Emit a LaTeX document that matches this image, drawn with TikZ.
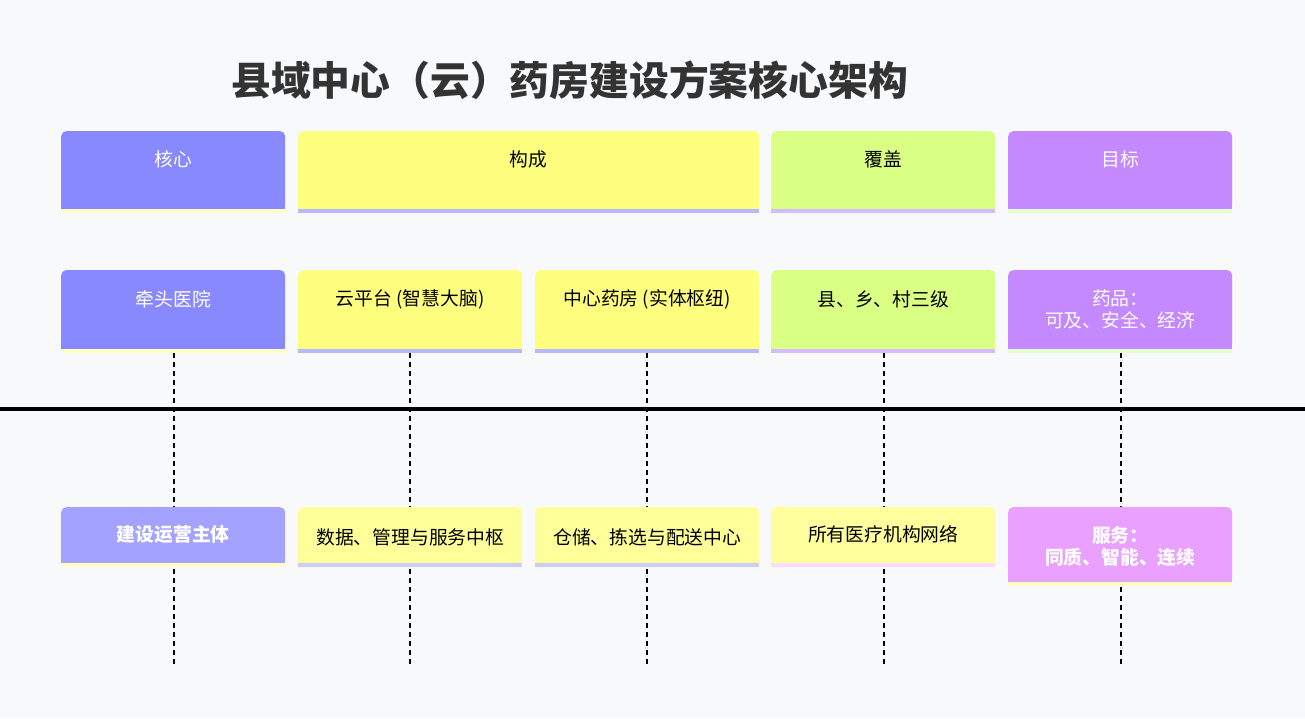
\documentclass[tikz,border=0pt]{standalone}
\usepackage{fontspec}
\setmainfont{Noto Sans CJK SC}
\pgfdeclarelayer{back}
\pgfdeclarelayer{bg}
\pgfsetlayers{back,bg,main}
\definecolor{pagebg}{HTML}{F8F9FB}
\definecolor{cblue}{HTML}{8888FF}
\definecolor{cblueL}{HTML}{A3A3FF}
\definecolor{cyellow}{HTML}{FFFF7F}
\definecolor{cyellowL}{HTML}{FFFF99}
\definecolor{cyellowM}{HTML}{FFFF9E}
\definecolor{clime}{HTML}{D9FF84}
\definecolor{cpurple}{HTML}{C488FF}
\definecolor{cpink}{HTML}{E9A0FF}
\definecolor{sYellow}{HTML}{FFFFC4}
\definecolor{sBlue}{HTML}{B8B8FF}
\definecolor{sBlueL}{HTML}{CCCCFF}
\definecolor{sLav}{HTML}{D6BBFF}
\definecolor{sGreen}{HTML}{E2FFCC}
\definecolor{sPink}{HTML}{F8DDFF}
\definecolor{titlec}{HTML}{333333}
\tikzset{
  boxnode/.style={anchor=north west, inner sep=0pt, rounded corners=5pt},
  lbl/.style={font=\fontsize{18.8}{22}\selectfont, align=center, inner sep=0pt, text=black},
  wlbl/.style={lbl, text=white},
  blbl/.style={lbl, text=white, font=\fontsize{18.8}{22}\selectfont\bfseries},
  guide/.style={draw=black, line width=2pt, dash pattern=on 4.5pt off 4.5pt},
  axis/.style={draw=black, line width=4pt}
}
% #1 name, #2 x, #3 y, #4 width, #5 height, #6 fill, #7 stripe
\newcommand\mkbox[7]{%
  \node[boxnode, fill=#6, minimum width=#4pt, minimum height=#5pt] (#1) at (#2,#3) {};
  \fill[#6] (#1.west) rectangle (#1.south east);
  \fill[#7] (#1.south west) rectangle ([yshift=-4pt]#1.south east);
}
\begin{document}
\begin{tikzpicture}[x=1pt,y=-1pt]
\useasboundingbox (0,0) rectangle (1305,718);
\begin{pgfonlayer}{back}
\fill[pagebg] (0,0) rectangle (1305,718);
\end{pgfonlayer}

\node[font=\fontsize{39.8}{44}\selectfont\bfseries, text=titlec, inner sep=0pt] (title) at (569.5,80) {县域中心（云）药房建设方案核心架构};

% header row
\mkbox{h1}{61}{131}{224}{78}{cblue}{sYellow}
\mkbox{h2}{298}{131}{461}{78}{cyellow}{sBlue}
\mkbox{h3}{771}{131}{224}{78}{clime}{sLav}
\mkbox{h4}{1008}{131}{224}{78}{cpurple}{sGreen}
\node[wlbl] (h1t) at ([yshift=-28pt]h1.north) {核心};
\node[lbl] (h2t) at ([yshift=-28pt]h2.north) {构成};
\node[lbl] (h3t) at ([yshift=-28pt]h3.north) {覆盖};
\node[wlbl] (h4t) at ([yshift=-28pt]h4.north) {目标};

% second row
\mkbox{a1}{61}{270}{224}{79}{cblue}{sYellow}
\mkbox{a2}{298}{270}{224}{79}{cyellow}{sBlue}
\mkbox{a3}{535}{270}{224}{79}{cyellow}{sBlue}
\mkbox{a4}{771}{270}{224}{79}{clime}{sLav}
\mkbox{a5}{1008}{270}{224}{79}{cpurple}{sGreen}
\node[wlbl] (a1t) at ([yshift=-29pt]a1.north) {牵头医院};
\node[lbl] (a2t) at ([yshift=-29pt]a2.north) {云平台 (智慧大脑)};
\node[lbl] (a3t) at ([yshift=-29pt]a3.north) {中心药房 (实体枢纽)};
\node[lbl] (a4t) at ([yshift=-29pt]a4.north) {县、乡、村三级};
\node[wlbl] (a5t) at ([yshift=-39pt]a5.north) {药品：\\可及、安全、经济};

% axis line
\coordinate (axL) at (0,409);
\coordinate (axR) at (1305,409);
\draw[axis] (axL) -- (axR);

% third row
\mkbox{b1}{61}{507}{224}{56}{cblueL}{sYellow}
\mkbox{b2}{298}{507}{224}{56}{cyellowL}{sBlueL}
\mkbox{b3}{535}{507}{224}{56}{cyellowL}{sBlueL}
\mkbox{b4}{771}{507}{224}{56}{cyellowM}{sPink}
\mkbox{b5}{1008}{507}{224}{75}{cpink}{sYellow}
\node[blbl] (b1t) at ([yshift=1pt]b1.center) {建设运营主体};
\node[lbl] (b2t) at ([yshift=-2pt]b2.center) {数据、管理与服务中枢};
\node[lbl] (b3t) at ([yshift=-2pt]b3.center) {仓储、拣选与配送中心};
\node[lbl] (b4t) at ([yshift=1pt]b4.center) {所有医疗机构网络};
\node[blbl] (b5t) at ([yshift=-2pt]b5.center) {服务：\\同质、智能、连续};

% dashed guides
\coordinate (e1) at (174,665);
\coordinate (e2) at (410,665);
\coordinate (e3) at (647,665);
\coordinate (e4) at (884,665);
\coordinate (e5) at (1121,665);
\begin{pgfonlayer}{bg}
\foreach \i/\x in {1/174,2/410,3/647,4/884,5/1121}{
  \draw[guide] (\x,353) -- (e\i);
}
\end{pgfonlayer}
\end{tikzpicture}
\end{document}
